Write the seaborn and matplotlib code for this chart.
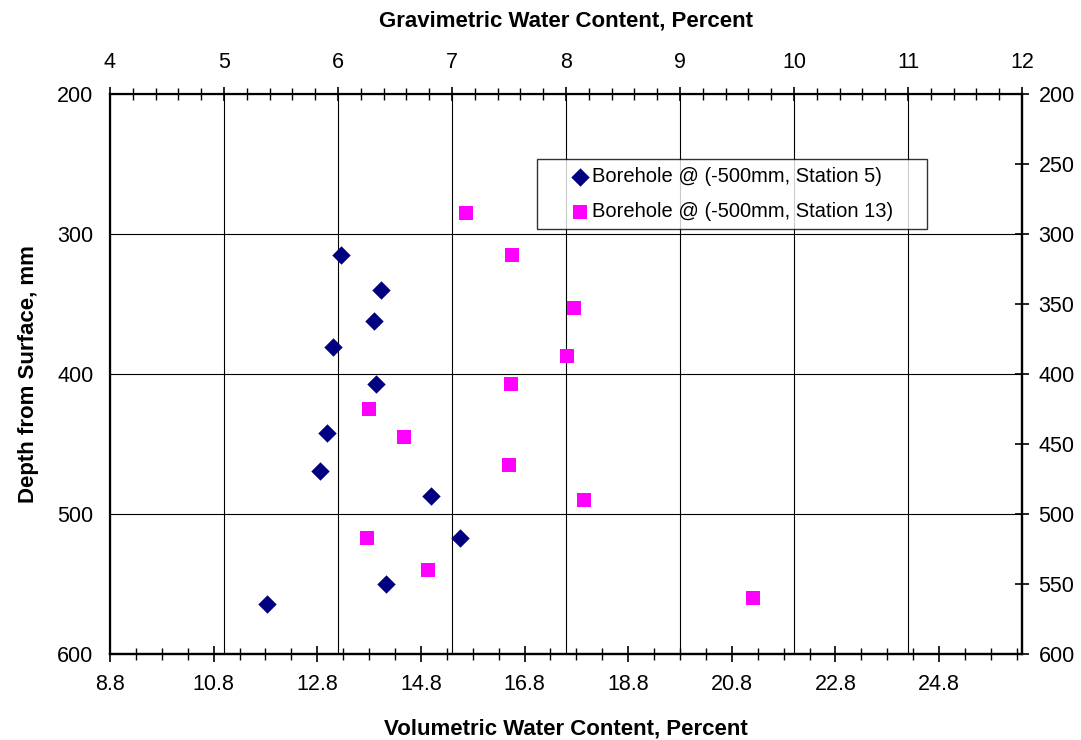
import numpy as np
import pandas as pd
import matplotlib
matplotlib.use("Agg")
import matplotlib.pyplot as plt
from matplotlib.ticker import MultipleLocator, FixedLocator, FormatStrFormatter
import seaborn as sns

# gravimetric water content (%) and depth (mm)
st5_grav = [6.03, 6.38, 6.32, 5.96, 6.33, 5.90, 5.84, 6.82, 7.07, 6.42, 5.38]
st5_depth = [315, 340, 362, 381, 407, 442, 469, 487, 517, 550, 564]

st13_grav = [7.12, 7.53, 8.07, 8.01, 7.52, 6.27, 6.58, 7.50, 8.16, 6.25, 6.79, 9.64]
st13_depth = [285, 315, 353, 387, 407, 425, 445, 465, 490, 517, 540, 560]

label5 = "Borehole @ (-500mm, Station 5)"
label13 = "Borehole @ (-500mm, Station 13)"
vol_factor = 2.2  # volumetric = 2.2 x gravimetric

df5 = pd.DataFrame({"grav": st5_grav, "depth": st5_depth})
df13 = pd.DataFrame({"grav": st13_grav, "depth": st13_depth})

sns.set_style("white")
plt.rcParams["font.family"] = ["Liberation Sans", "DejaVu Sans"]
plt.rcParams.update({"text.color": "black", "axes.labelcolor": "black",
                     "xtick.color": "black", "ytick.color": "black"})

TICK_FS = 15.5
LABEL_FS = 16

fig = plt.figure(figsize=(10.81, 7.40), dpi=100)
ax = fig.add_axes([110 / 1081, 1 - 654 / 740, 912 / 1081, 560 / 740])

sns.scatterplot(data=df5, x="grav", y="depth", marker="D", color="#000080",
                s=88, linewidth=0, ax=ax, zorder=3, label=label5)
sns.scatterplot(data=df13, x="grav", y="depth", marker="s", color="#FF00FF",
                s=92, linewidth=0, ax=ax, zorder=3, label=label13)

ax.set_xlim(4, 12)
ax.set_ylim(600, 200)

# top axis: gravimetric
ax.xaxis.tick_top()
ax.xaxis.set_label_position("top")
ax.xaxis.set_major_locator(MultipleLocator(1))
ax.xaxis.set_minor_locator(MultipleLocator(0.2))
ax.tick_params(axis="x", which="major", direction="inout", length=10, width=1.2,
               labelsize=TICK_FS, pad=10)
ax.tick_params(axis="x", which="minor", direction="inout", length=8.6, width=1)
ax.set_xlabel("Gravimetric Water Content, Percent", fontsize=LABEL_FS,
              fontweight="bold", labelpad=18.5)

# left axis
ax.yaxis.set_major_locator(MultipleLocator(100))
ax.yaxis.set_minor_locator(MultipleLocator(50))
ax.tick_params(axis="y", which="both", direction="inout", length=8, width=1.2,
               labelsize=TICK_FS, pad=8)
ax.set_ylabel("Depth from Surface, mm", fontsize=LABEL_FS, fontweight="bold",
              labelpad=13)

ax.grid(True, which="major", color="black", linewidth=0.8)
ax.set_axisbelow(True)

for sp in ax.spines.values():
    sp.set_color("black")
    sp.set_linewidth(1.6)
    sp.set_visible(True)

# bottom axis: volumetric
sec = ax.secondary_xaxis("bottom", functions=(lambda g: g * vol_factor,
                                               lambda v: v / vol_factor))
sec.xaxis.set_major_locator(FixedLocator(np.arange(8.8, 26.0, 2.0)))
sec.xaxis.set_minor_locator(FixedLocator(np.arange(8.8, 26.45, 0.5)))
sec.xaxis.set_major_formatter(FormatStrFormatter("%.1f"))
sec.tick_params(axis="x", which="major", direction="inout", length=11, width=1.2,
                labelsize=TICK_FS, pad=9)
sec.tick_params(axis="x", which="minor", direction="inout", length=8.6, width=1)
sec.set_xlabel("Volumetric Water Content, Percent", fontsize=LABEL_FS,
               fontweight="bold", labelpad=16.5)
sec.spines["bottom"].set_linewidth(1.6)

# right axis: depth every 50
rsec = ax.secondary_yaxis("right")
rsec.yaxis.set_major_locator(MultipleLocator(50))
rsec.tick_params(axis="y", which="major", direction="inout", length=10, width=1.2,
                 labelsize=TICK_FS, pad=7)
rsec.spines["right"].set_linewidth(1.6)

leg = ax.legend(loc="upper left", bbox_to_anchor=(0.4682, 0.7839, 0.4276, 0.1),
                mode="expand", borderaxespad=0, fontsize=14.5, frameon=True,
                fancybox=False, edgecolor="black", borderpad=0.4,
                handlelength=3.5, handletextpad=-1.15, labelspacing=0.8)
leg.get_frame().set_linewidth(1.0)

fig.savefig("out.png", dpi=100)
